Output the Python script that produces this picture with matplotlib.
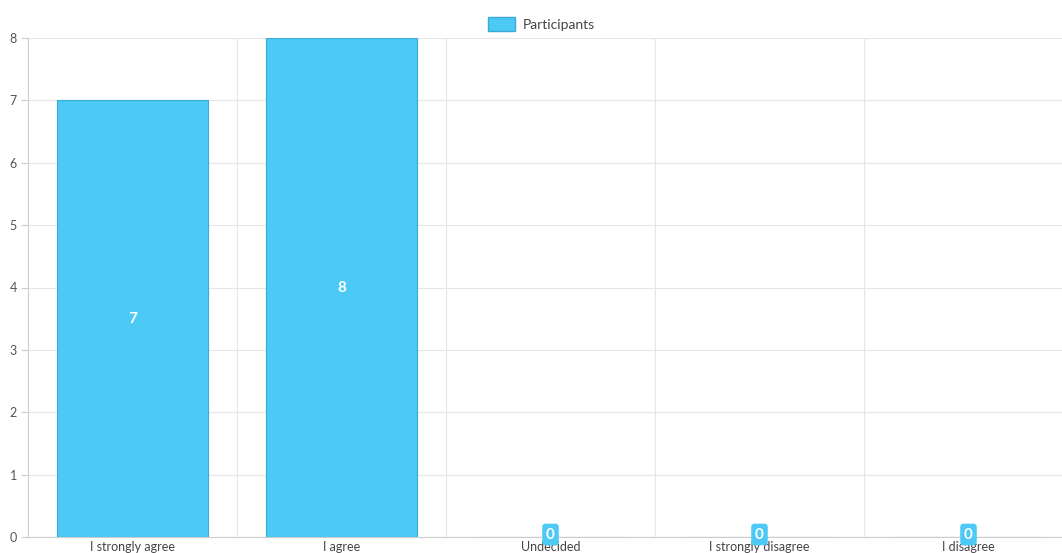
import matplotlib
matplotlib.use("Agg")
import matplotlib.pyplot as plt
from matplotlib.patches import Patch

categories = ["I strongly agree", "I agree", "Undecided", "I strongly disagree", "I disagree"]
participants = [7, 8, 0, 0, 0]
yticks = [0, 1, 2, 3, 4, 5, 6, 7, 8]

plt.rcParams['font.family'] = ['Lato', 'DejaVu Sans']
W, H = 1062, 553
fig = plt.figure(figsize=(W / 100, H / 100), dpi=100)
ax = fig.add_axes([28 / W, 1 - 537 / H, (1073 - 28) / W, (537 - 38) / H])

bar_color = "#4DC9F6"
x = list(range(len(categories)))
ax.bar(x, participants, width=0.72, color=bar_color, edgecolor="#3aa9d6", linewidth=0.8, zorder=3)

for xi, v in zip(x, participants):
    if v > 0:
        ax.text(xi, v / 2, str(v), ha="center", va="center", color="white",
                fontsize=11, fontweight="bold", zorder=4)
    else:
        ax.text(xi, 0.04, str(v), ha="center", va="center", color="white",
                fontsize=11, fontweight="bold", zorder=5,
                bbox=dict(boxstyle="round,pad=0.25,rounding_size=0.2", fc=bar_color, ec="none"))

ax.set_xlim(-0.5, len(categories) - 0.5)
ax.set_ylim(0, 8)
ax.set_yticks(yticks)
ax.set_xticks(x)
ax.set_xticklabels(categories)
ax.set_xticks([i + 0.5 for i in range(len(categories) - 1)], minor=True)
ax.grid(True, axis="y", color="#e6e6e6", linewidth=0.8, zorder=0)
ax.grid(True, axis="x", which="minor", color="#e6e6e6", linewidth=0.8, zorder=0)
ax.tick_params(axis="x", which="both", length=0, labelsize=9, colors="#444444", pad=3)
ax.tick_params(axis="y", length=5, width=0.8, color="#cccccc", labelsize=9, labelcolor="#555555", pad=3)
for s in ["top", "right"]:
    ax.spines[s].set_visible(False)
ax.spines["left"].set_color("#cccccc")
ax.spines["bottom"].set_color("#cccccc")
ax.spines["left"].set_linewidth(0.8)
ax.spines["bottom"].set_linewidth(0.8)

fig.legend(handles=[Patch(facecolor=bar_color, edgecolor="#3aa9d6")], labels=["Participants"],
           loc="center", bbox_to_anchor=(541 / W, 1 - 24 / H), frameon=False, fontsize=10,
           handlelength=2.0, handleheight=1.2, handletextpad=0.5, labelcolor="#444444")

fig.savefig("out.png", dpi=100)
